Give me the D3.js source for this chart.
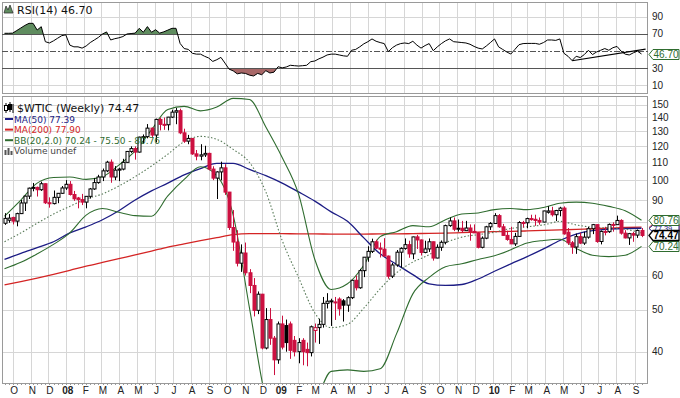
<!DOCTYPE html>
<html>
<head>
<meta charset="utf-8">
<script src="https://cdn.jsdelivr.net/npm/d3@7"></script>
<style>
  body { margin: 0; background: #fff; }
  svg { display: block; }
</style>
</head>
<body>
<div id="chart"></div>
<script>
const svgWidth = 680;
const svgHeight = 398;

// weekly bars, the first one is the week of Mon 17 Sep 2007
const firstWeek = "2007-09-17";

// [open, high, low, close] per week
const candles = [
  [79.5, 83.9, 78.8, 81.6], [80.8, 83.5, 79.7, 81.7], [82.0, 82.3, 79.0, 80.4], [80.4, 84.1, 78.2, 83.7],
  [83.7, 90.0, 83.5, 88.6], [88.6, 92.2, 84.9, 91.9], [91.9, 96.2, 90.5, 95.9], [95.9, 98.6, 94.3, 96.3],
  [96.3, 96.7, 91.7, 95.1], [95.1, 99.3, 94.5, 98.2], [98.2, 98.4, 88.1, 88.7], [88.7, 91.3, 86.4, 88.3],
  [88.3, 94.7, 87.9, 91.3], [91.3, 93.4, 88.5, 93.3], [93.3, 97.0, 93.0, 96.0], [96.0, 100.1, 95.0, 97.9],
  [97.9, 99.6, 92.2, 92.7], [92.7, 94.5, 89.6, 90.6], [91.0, 91.5, 86.1, 90.2], [90.2, 93.0, 87.6, 89.0],
  [89.0, 91.8, 86.1, 91.8], [91.8, 96.0, 90.7, 95.5], [95.5, 101.3, 95.0, 98.8], [98.8, 103.0, 98.2, 101.8],
  [101.8, 106.5, 99.6, 105.2], [105.2, 111.0, 104.5, 110.2], [110.2, 111.8, 98.7, 101.8], [101.8, 107.9, 100.1, 105.6],
  [105.6, 107.0, 99.6, 106.2], [106.2, 112.2, 105.5, 110.1], [110.1, 117.0, 109.9, 116.7], [116.7, 119.9, 115.8, 118.5],
  [118.5, 119.9, 111.7, 116.3], [116.3, 126.3, 116.0, 126.0], [126.0, 127.8, 121.6, 126.3], [126.3, 135.1, 125.2, 132.2],
  [132.2, 132.6, 125.9, 127.4], [127.4, 139.1, 122.5, 138.5], [138.5, 139.9, 130.6, 134.9], [134.9, 139.9, 131.0, 134.6],
  [134.6, 140.4, 130.6, 140.2], [140.2, 145.9, 139.5, 144.0], [144.0, 147.3, 135.0, 145.1], [145.1, 146.7, 128.0, 128.9],
  [128.9, 131.8, 122.2, 123.3], [123.3, 127.5, 121.3, 125.1], [125.1, 125.2, 114.6, 115.2], [115.2, 117.6, 111.3, 113.8],
  [113.8, 121.3, 111.3, 114.6], [114.6, 120.3, 113.3, 115.5], [115.5, 115.9, 105.5, 106.2], [106.2, 107.8, 100.1, 101.2],
  [101.2, 105.0, 90.5, 104.6], [104.6, 110.5, 100.0, 106.9], [106.9, 109.0, 92.5, 93.9], [93.9, 94.0, 76.7, 77.7],
  [77.7, 85.3, 68.6, 71.9], [71.9, 76.6, 63.1, 64.2], [64.2, 71.0, 61.3, 67.8], [67.8, 71.7, 60.1, 61.0],
  [61.0, 62.2, 54.7, 57.0], [57.0, 59.3, 48.3, 49.9], [49.9, 55.2, 48.9, 54.4], [54.4, 54.5, 40.5, 40.8],
  [40.8, 50.5, 40.5, 47.5], [47.5, 50.5, 41.5, 43.0], [43.0, 43.5, 35.3, 38.3], [38.3, 47.0, 37.5, 46.4],
  [46.4, 48.5, 40.5, 41.0], [46.0, 47.5, 40.0, 42.0], [46.4, 47.0, 38.5, 40.3], [42.5, 43.5, 39.0, 40.0],
  [40.0, 43.0, 37.6, 42.0], [42.5, 43.0, 37.2, 40.0], [40.5, 42.0, 37.0, 39.8], [39.8, 46.0, 39.0, 45.7],
  [44.8, 46.5, 42.0, 45.5], [45.5, 47.7, 41.7, 46.3], [46.3, 53.6, 45.5, 51.8], [51.8, 54.7, 50.4, 52.4],
  [52.4, 53.1, 45.9, 52.5], [52.0, 53.6, 47.4, 52.2], [53.0, 53.5, 48.5, 50.3], [52.5, 53.0, 47.0, 51.3],
  [51.3, 53.8, 49.5, 53.4], [53.4, 58.6, 53.0, 58.6], [58.6, 60.1, 55.5, 56.3], [56.3, 62.3, 56.0, 61.7],
  [61.7, 66.3, 59.6, 66.3], [66.3, 70.3, 64.7, 68.4], [68.4, 73.2, 67.8, 72.0], [72.0, 72.8, 69.3, 69.6],
  [69.6, 71.7, 66.2, 69.2], [69.2, 73.4, 66.7, 66.7], [66.7, 66.9, 59.1, 59.9], [59.9, 64.3, 59.3, 63.6],
  [63.6, 68.9, 63.0, 68.1], [68.1, 69.9, 62.7, 69.5], [69.5, 73.3, 69.0, 70.9], [70.9, 72.4, 66.1, 67.5],
  [67.5, 74.0, 65.6, 73.9], [73.9, 74.7, 69.3, 72.7], [72.7, 72.9, 66.9, 68.0], [68.0, 72.4, 67.7, 69.3],
  [69.3, 73.3, 68.2, 72.0], [72.0, 72.1, 65.1, 66.0], [66.0, 71.0, 65.9, 69.9], [69.9, 72.5, 68.6, 71.8],
  [71.8, 78.9, 71.0, 78.5], [78.5, 82.0, 78.0, 80.5], [80.5, 82.0, 76.2, 77.0], [77.0, 81.1, 76.0, 77.4],
  [77.4, 80.5, 75.5, 76.4], [76.4, 80.5, 76.3, 77.5], [77.5, 79.0, 72.4, 76.1], [76.1, 79.0, 75.5, 75.5],
  [75.5, 75.8, 69.5, 69.9], [69.9, 74.1, 69.5, 73.4], [73.4, 78.4, 73.0, 78.0], [78.0, 80.0, 76.7, 79.4],
  [79.4, 83.9, 79.2, 82.8], [82.8, 83.5, 77.6, 78.0], [78.0, 79.2, 74.3, 74.5], [74.5, 76.4, 72.4, 72.9],
  [72.9, 78.0, 71.1, 71.2], [71.2, 75.5, 70.4, 74.1], [74.1, 80.4, 74.0, 79.8], [79.8, 80.5, 77.7, 79.7],
  [79.7, 81.9, 77.4, 81.5], [81.5, 83.2, 80.6, 81.2], [81.2, 83.2, 78.4, 80.7], [80.7, 82.0, 78.9, 80.0],
  [80.0, 85.0, 79.9, 84.9], [84.3, 87.1, 83.7, 84.9], [84.9, 86.8, 82.4, 83.2], [83.2, 85.4, 80.4, 85.1],
  [85.1, 86.8, 82.5, 86.2], [86.2, 87.0, 74.8, 75.1], [75.8, 77.5, 70.8, 71.6], [71.6, 72.3, 67.5, 70.0],
  [70.0, 75.2, 67.5, 74.0], [74.0, 75.6, 71.1, 71.5], [71.5, 76.0, 70.8, 73.8], [73.8, 78.0, 73.2, 77.2],
  [77.2, 79.2, 75.0, 78.9], [78.9, 79.0, 71.6, 72.1], [72.1, 76.5, 71.0, 76.1], [76.1, 78.0, 74.5, 76.0],
  [76.0, 79.4, 75.5, 79.0], [79.0, 79.9, 76.0, 78.9], [78.9, 82.8, 78.8, 80.7], [80.7, 81.2, 74.8, 75.4],
  [75.4, 76.6, 73.3, 73.5], [73.5, 75.5, 70.8, 75.2], [75.2, 75.9, 72.0, 74.6], [74.6, 76.9, 73.5, 76.5],
  [76.5, 77.5, 73.8, 74.47]
];

// RSI(14), one value per week
const rsiValues = [
  70.8, 70.8, 71, 74, 77, 80, 82.4, 82.4, 74.6, 78.5, 61, 59.5, 62, 65, 68, 69,
  57, 55, 55, 53.5, 56, 60, 63, 66, 70, 72.4, 63, 64.5, 65.5, 67, 70, 70.5,
  71, 76.6, 72, 78.6, 72, 75, 71, 72.5, 74.5, 76.6, 76.6, 59, 53, 52, 47.5, 46.5,
  46.5, 44, 42, 38, 40, 42.7, 36, 29, 27, 23.5, 24.5, 24, 22, 21, 24, 22.5,
  27.2, 24.5, 25.5, 31.8, 30.5, 31.5, 33.5, 33, 32.6, 33, 33.5, 37.7, 38.5, 41, 43, 45.5,
  46.5, 46.5, 45.5, 44.5, 44, 51, 52, 55, 58.5, 61, 64.2, 61.5, 60, 58.8, 49.4, 54,
  57, 58.8, 59.5, 58.8, 61.5, 57, 53.5, 56.5, 58.8, 50.5, 55, 58.8, 62, 64.2, 61, 60.5,
  60, 59.5, 58, 55.5, 53.5, 52.5, 56, 60, 64.2, 55, 52, 49, 46.6, 52, 57.5, 58.8,
  59, 59, 59, 58, 60, 63, 63, 62.5, 64.2, 47.5, 44, 39, 44, 42.5, 46, 51,
  46, 49, 51, 53, 51, 54, 55.5, 50, 46.5, 45.5, 48, 50, 46.7
];
// trend line drawn on the RSI panel: [week, value]
const rsiTrend = [[139, 38.8], [157, 52.3]];

const lineStep = 4;
const ma50 = [65.5, 67.7, 69.8, 72, 75.5, 78, 81, 85, 90, 94.5, 98.5, 103, 106.5, 109.5, 109.5, 106,
  102.5, 98.5, 94, 89.5, 84.5, 80.3, 73.5, 67.5, 63.8, 60.4, 57.5, 57, 57.3, 59, 61.5, 64,
  66.5, 69.3, 72.5, 75, 76.4, 77, 77.3, 77.39];
const ma200 = [57.2, 58.2, 59.3, 60.5, 61.8, 63.2, 64.5, 65.8, 67.1, 68.5, 70, 71.2, 72.4, 73.6, 74.8, 75.2,
  75.2, 75.2, 75.1, 75.1, 75.0, 75.0, 75.0, 75.1, 75.1, 75.2, 75.3, 75.4, 75.6, 75.8, 76.0, 76.1,
  76.3, 76.5, 76.7, 76.9, 77.2, 77.4, 77.7, 77.9];
const bbUpper = [82.5, 90, 98.5, 101.5, 101.8, 100.5, 102, 108.5, 117, 131, 146, 148.5, 145, 148, 155, 154,
  133, 113, 93, 65.5, 55.8, 57.5, 63.5, 74, 76, 78.5, 78, 81, 83.5, 84, 85.5, 86,
  85.5, 86.5, 88.5, 89, 88.5, 87, 85, 80.76];
const bbMid = [72, 75.5, 79.5, 83.5, 87, 90.5, 93, 97, 102, 108, 115, 123, 126.5, 124.5, 118, 110,
  94, 72.5, 59.5, 49.2, 45.5, 46.3, 50.5, 56, 61, 64.6, 67.2, 71.5, 73.8, 74.8, 75.8, 77.3,
  78, 78.8, 80.3, 78.8, 77.8, 77.5, 77, 75.5];
const bbLower = [62.3, 64.5, 67.5, 71, 75.5, 83, 86, 84.3, 82.8, 82.5, 92, 100.5, 107.5, 102.5, 83, 50.5,
  31, 25, 25, 30, 36, 36.3, 36, 36.5, 44, 54.5, 59.5, 63, 64, 65.5, 66.8, 69,
  71.5, 72.5, 73, 69.5, 67, 66.5, 67, 70.24];

const priceTicks = [150, 140, 130, 120, 110, 100, 90, 80, 70, 60, 50, 40];
const priceLabels = [150, 140, 130, 120, 110, 100, 90, 60, 50, 40];
const rsiLabels = [90, 70, 30, 10];

const lastClose = 74.47;
const lastMa50 = 77.39;
const lastMa200 = 77.90;
const lastBB = [70.24, 75.50, 80.76];
const lastRsi = 46.70;

// ---------------------------------------------------------------
const left = 2, right = 648;
const rsiTop = 2, rsiBottom = 93;
const priceTop = 96, priceBottom = 383;

const red = "#cc1040";
const navy = "#1c1c84";
const maRed = "#d42424";
const green = "#2f6c2f";
const gridColor = "#d6d6d6";

const t0 = new Date(firstWeek + "T00:00:00Z");
const weekDate = i => d3.utcDay.offset(t0, 7 * i);

const svg = d3.select("#chart")
  .append("svg")
  .attr("width", svgWidth)
  .attr("height", svgHeight);

const x = d3.scaleUtc()
  .domain([weekDate(0), weekDate(candles.length - 1)])
  .range([4.5, 641.5]);

const y = d3.scaleLog()
  .domain([40, 150])
  .range([351.7, 104.5]);

const yRsi = d3.scaleLinear()
  .domain([0, 100])
  .range([94, 8.25]);

const defs = svg.append("defs");
defs.append("clipPath").attr("id", "clipPrice")
  .append("rect").attr("x", left).attr("y", priceTop)
  .attr("width", right - left).attr("height", priceBottom - priceTop);
defs.append("clipPath").attr("id", "clipRsi")
  .append("rect").attr("x", left).attr("y", rsiTop)
  .attr("width", right - left).attr("height", rsiBottom - rsiTop);
defs.append("clipPath").attr("id", "clipOver")
  .append("rect").attr("x", left).attr("y", rsiTop)
  .attr("width", right - left).attr("height", yRsi(70) - rsiTop);
defs.append("clipPath").attr("id", "clipUnder")
  .append("rect").attr("x", left).attr("y", yRsi(30))
  .attr("width", right - left).attr("height", rsiBottom - yRsi(30));

const crisp = v => Math.round(v) + 0.5;

// month grid lines
const months = d3.utcMonth.range(x.invert(left), x.invert(right));
const grid = svg.append("g").attr("stroke", gridColor).attr("stroke-width", 1);
months.forEach(m => {
  const gx = crisp(x(m));
  grid.append("line").attr("x1", gx).attr("x2", gx).attr("y1", rsiTop).attr("y2", rsiBottom);
  grid.append("line").attr("x1", gx).attr("x2", gx).attr("y1", priceTop).attr("y2", priceBottom);
});
priceTicks.forEach(v => {
  grid.append("line").attr("x1", left).attr("x2", right)
    .attr("y1", crisp(y(v))).attr("y2", crisp(y(v)));
});
[90, 10].forEach(v => {
  grid.append("line").attr("x1", left).attr("x2", right)
    .attr("y1", crisp(yRsi(v))).attr("y2", crisp(yRsi(v)));
});

// panel frames
[[rsiTop, rsiBottom], [priceTop, priceBottom]].forEach(([t, b]) => {
  svg.append("rect")
    .attr("x", left + 0.5).attr("y", t + 0.5)
    .attr("width", right - left - 1).attr("height", b - t)
    .attr("fill", "none").attr("stroke", "#9a9a9a");
});

// ---------------- RSI panel ----------------
const rsiG = svg.append("g").attr("clip-path", "url(#clipRsi)");
const rsiX = (d, i) => x(weekDate(i));

rsiG.append("path")
  .datum(rsiValues)
  .attr("clip-path", "url(#clipOver)")
  .attr("fill", "#5f8c5f")
  .attr("d", d3.area().x(rsiX).y0(yRsi(70)).y1(d => yRsi(d)));
rsiG.append("path")
  .datum(rsiValues)
  .attr("clip-path", "url(#clipUnder)")
  .attr("fill", "#a86868")
  .attr("d", d3.area().x(rsiX).y0(yRsi(30)).y1(d => yRsi(d)));

[70, 30].forEach(v => {
  rsiG.append("line").attr("x1", left).attr("x2", right)
    .attr("y1", crisp(yRsi(v))).attr("y2", crisp(yRsi(v)))
    .attr("stroke", "#555");
});
rsiG.append("line").attr("x1", left).attr("x2", right)
  .attr("y1", crisp(yRsi(50))).attr("y2", crisp(yRsi(50)))
  .attr("stroke", "#555").attr("stroke-dasharray", "6,2,2,2");

rsiG.append("path")
  .datum(rsiValues)
  .attr("fill", "none")
  .attr("stroke", "#000")
  .attr("stroke-width", 1)
  .attr("d", d3.line().x(rsiX).y(d => yRsi(d)));

rsiG.append("path")
  .datum(rsiTrend)
  .attr("fill", "none")
  .attr("stroke", "#000")
  .attr("stroke-width", 1.2)
  .attr("d", d3.line().x(d => x(d3.utcHour.offset(t0, d[0] * 168))).y(d => yRsi(d[1])));

// ---------------- price panel ----------------
const priceG = svg.append("g").attr("clip-path", "url(#clipPrice)");
const lineX = (d, i) => x(weekDate(i * lineStep));
const overlay = (values, color, dash, width) => {
  priceG.append("path")
    .datum(values)
    .attr("fill", "none")
    .attr("stroke", color)
    .attr("stroke-width", width)
    .attr("stroke-dasharray", dash)
    .attr("d", d3.line().x(lineX).y(d => y(d)).curve(d3.curveMonotoneX));
};
overlay(ma200, maRed, null, 1.3);
overlay(ma50, navy, null, 1.3);
overlay(bbUpper, green, null, 1.1);
overlay(bbLower, green, null, 1.1);
overlay(bbMid, "#587a58", "1.5,2", 1.1);

// candles
const candleG = priceG.append("g");
candles.forEach((c, i) => {
  const [o, h, l, cl] = c;
  const prev = i > 0 ? candles[i - 1][3] : o;
  const color = cl < prev ? red : "#000";
  const cx = crisp(x(weekDate(i)));
  candleG.append("line")
    .attr("x1", cx).attr("x2", cx)
    .attr("y1", y(h)).attr("y2", y(l))
    .attr("stroke", color);
  const top = y(Math.max(o, cl));
  const bot = y(Math.min(o, cl));
  candleG.append("rect")
    .attr("x", cx - 1.5)
    .attr("y", top)
    .attr("width", 3)
    .attr("height", Math.max(1, bot - top))
    .attr("fill", cl < o ? color : "#fff")
    .attr("stroke", color)
    .attr("stroke-width", 1);
});

// ---------------- axes ----------------
const axisFont = "'Liberation Sans', Arial, sans-serif";
const legendFont = "'DejaVu Sans', Verdana, sans-serif";

svg.append("g")
  .selectAll("text")
  .data(priceLabels)
  .join("text")
  .attr("x", 652)
  .attr("y", d => y(d))
  .attr("dy", "0.35em")
  .attr("font-family", axisFont)
  .attr("font-size", "10px")
  .attr("fill", "#222")
  .text(d => d);

svg.append("g")
  .selectAll("text")
  .data(rsiLabels)
  .join("text")
  .attr("x", 652)
  .attr("y", d => yRsi(d))
  .attr("dy", "0.35em")
  .attr("font-family", axisFont)
  .attr("font-size", "10px")
  .attr("fill", "#222")
  .text(d => d);

// month labels
const monthLetter = d3.utcFormat("%b");
svg.append("g")
  .selectAll("text")
  .data(months.filter(m => x(m) > 6))
  .join("text")
  .attr("x", d => x(d) + 1.5)
  .attr("y", 394)
  .attr("text-anchor", "middle")
  .attr("font-family", axisFont)
  .attr("font-size", "10px")
  .attr("font-weight", d => d.getUTCMonth() === 0 ? "700" : "400")
  .attr("fill", "#222")
  .text(d => d.getUTCMonth() === 0 ? d3.utcFormat("%y")(d) : monthLetter(d)[0]);

// weekly ticks under the price panel
svg.append("g")
  .selectAll("line")
  .data(candles)
  .join("line")
  .attr("x1", (d, i) => crisp(x(weekDate(i))))
  .attr("x2", (d, i) => crisp(x(weekDate(i))))
  .attr("y1", priceBottom)
  .attr("y2", priceBottom + 2)
  .attr("stroke", "#999");

// ---------------- value tags on the right ----------------
const tag = (value, scale, color, opts = {}) => {
  const ty = Math.round(scale(value)) + 0.5;
  const hh = opts.half || 5;
  const g = svg.append("g");
  g.append("path")
    .attr("d", `M649,${ty} L653,${ty - hh} L679,${ty - hh} L679,${ty + hh} L653,${ty + hh} Z`)
    .attr("fill", "#fff")
    .attr("stroke", color)
    .attr("stroke-width", opts.bold ? 1.3 : 1);
  g.append("text")
    .attr("x", 653.5)
    .attr("y", ty)
    .attr("dy", "0.36em")
    .attr("font-family", axisFont)
    .attr("font-size", opts.size || "10px")
    .attr("font-weight", opts.bold ? "700" : "400")
    .attr("fill", opts.bold ? "#000" : color)
    .text(value.toFixed(2));
};
// the two MA tags sit squeezed between the band and close tags
tag(lastMa200, y, maRed, { half: 3.5, size: "7.5px" });
tag(lastMa50, y, navy, { half: 3.5, size: "7.5px" });
tag(lastBB[2], y, green, { size: "10px" });
tag(lastBB[0], y, green, { size: "10px" });
tag(lastClose, y, "#000", { bold: true, size: "10px" });
tag(lastRsi, yRsi, green, { size: "10px" });

// ---------------- legends ----------------
// RSI
svg.append("path")
  .attr("d", "M4,13 L6,6 L8,10 L10,5 L13,13 Z")
  .attr("fill", "#5f8c5f").attr("stroke", "#333").attr("stroke-width", 0.8);
svg.append("text")
  .attr("x", 17).attr("y", 14)
  .attr("font-family", legendFont).attr("font-size", "11px")
  .attr("fill", "#111")
  .text(`RSI(14) ${lastRsi.toFixed(2)}`);

// price legend
const lg = svg.append("g");
lg.append("path")
  .attr("d", "M6,103 V113 M10,102 V112 M13,104 V113")
  .attr("stroke", "#000").attr("stroke-width", 1);
lg.append("rect").attr("x", 4.5).attr("y", 105.5).attr("width", 3).attr("height", 5)
  .attr("fill", "#fff").attr("stroke", "#000");
lg.append("rect").attr("x", 8.5).attr("y", 104.5).attr("width", 3).attr("height", 5)
  .attr("fill", "#000").attr("stroke", "#000");
lg.append("text")
  .attr("x", 17).attr("y", 111.5)
  .attr("font-family", legendFont).attr("font-size", "11px")
  .attr("fill", "#111")
  .text(`$WTIC (Weekly) ${lastClose.toFixed(2)}`);

const legendRows = [
  [`MA(50) ${lastMa50.toFixed(2)}`, navy],
  [`MA(200) ${lastMa200.toFixed(2)}`, maRed],
  [`BB(20,2.0) ${lastBB.map(v => v.toFixed(2)).join(" - ")}`, green]
];
legendRows.forEach(([label, color], i) => {
  const ly = 122.5 + i * 10.6;
  lg.append("line").attr("x1", 5).attr("x2", 13)
    .attr("y1", ly - 3.5).attr("y2", ly - 3.5)
    .attr("stroke", color).attr("stroke-width", 2);
  lg.append("text")
    .attr("x", 14).attr("y", ly)
    .attr("font-family", legendFont).attr("font-size", "9px")
    .attr("fill", color)
    .text(label);
});
lg.append("path")
  .attr("d", "M5.5,155 V150 M8.5,155 V148 M11.5,155 V151")
  .attr("stroke", "#555").attr("stroke-width", 2);
lg.append("text")
  .attr("x", 14).attr("y", 154.3)
  .attr("font-family", legendFont).attr("font-size", "9px")
  .attr("fill", "#444")
  .text("Volume undef");
</script>
</body>
</html>
